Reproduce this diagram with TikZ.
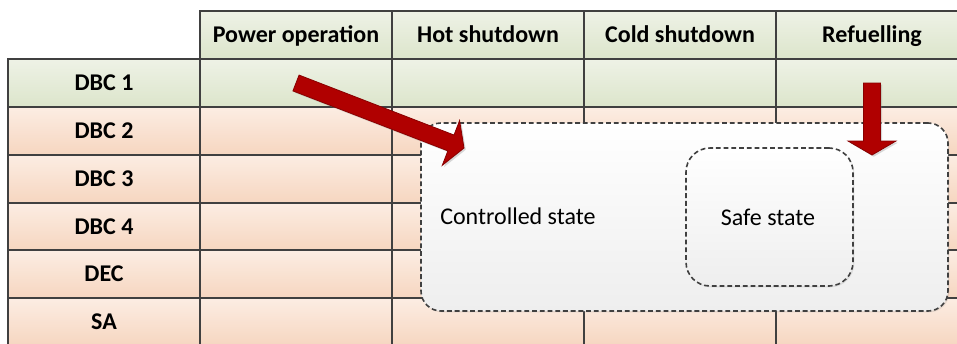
\documentclass[tikz,border=0pt]{standalone}
\usepackage{fontspec}
\setmainfont{Carlito}
\usetikzlibrary{calc,shadows}

\definecolor{gridgray}{HTML}{404040}
\definecolor{gtop}{HTML}{EEF2E6}
\definecolor{gbot}{HTML}{DCE5CB}
\definecolor{ptop}{HTML}{FCEDE3}
\definecolor{pbot}{HTML}{F6D6C0}
\definecolor{arrowred}{HTML}{B00000}
\definecolor{arrowedge}{HTML}{880000}
\definecolor{boxbot}{HTML}{EEEEEE}

\tikzset{
  cell/.style={draw=gridgray, line width=1.5pt, minimum width=144pt,
    minimum height=35.85pt, inner sep=0pt, text=black,
    text height=11.6pt, text depth=0pt,
    font=\fontsize{18}{21}\selectfont\bfseries},
  greencell/.style={top color=gtop, bottom color=gbot},
  peachcell/.style={top color=ptop, bottom color=pbot},
  statebox/.style={draw=gridgray, line width=1.2pt,
    dash pattern=on 3.6pt off 2.2pt, top color=white, bottom color=boxbot,
    drop shadow={opacity=0.18, shadow xshift=1pt, shadow yshift=-1pt},
    inner sep=0pt},
  statetext/.style={font=\fontsize{18}{21}\selectfont, text=black, inner sep=0pt},
  blockarrow/.style={fill=arrowred, draw=arrowedge, line width=0.6pt,
    line join=miter,
    drop shadow={opacity=0.3, shadow xshift=1.3pt, shadow yshift=-1.3pt}}
}

\newcommand\myblockarrow[3]{%
  \coordinate (#3b) at ($(#2)!10.5pt!(#1)$);
  \path[blockarrow]
    ($(#1)!6.375pt!90:(#2)$) -- ($(#3b)!6.375pt!90:(#2)$)
    -- ($(#3b)!18pt!90:(#2)$) -- (#2)
    -- ($(#3b)!18pt!-90:(#2)$) -- ($(#3b)!6.375pt!-90:(#2)$)
    -- ($(#1)!6.375pt!-90:(#2)$) -- cycle;
}

\begin{document}
\begin{tikzpicture}[x=0.75pt,y=-0.75pt]
\useasboundingbox (0,0) rectangle (957,343);
\clip (0,0) rectangle (957,343);

% header
\node[cell,greencell] (h1) at (296,35) {Power operation};
\node[cell,greencell] (h2) at (488,35) {Hot shutdown};
\node[cell,greencell] (h3) at (680,35) {Cold shutdown};
\node[cell,greencell] (h4) at (872,35) {Refuelling};

% first row (green)
\node[cell,greencell] (r1) at (104,83) {DBC 1};
\foreach \j in {1,...,4} {
  \pgfmathsetmacro\xc{296+192*(\j-1)}
  \node[cell,greencell] (c1\j) at (\xc,83) {};
}

% remaining rows (peach)
\foreach \lab [count=\k from 2] in {DBC 2,DBC 3,DBC 4,DEC,SA} {
  \pgfmathsetmacro\yc{83+47.8*(\k-1)}
  \node[cell,peachcell] (r\k) at (104,\yc) {\lab};
  \foreach \j in {1,...,4} {
    \pgfmathsetmacro\xc{296+192*(\j-1)}
    \node[cell,peachcell] (c\k\j) at (\xc,\yc) {};
  }
}

% state boxes
\node[statebox, rounded corners=15pt, minimum width=395.25pt,
  minimum height=141pt] (ctrl) at (684.5,217) {};
\node[statetext, anchor=west] (ctrltext) at (440,216) {Controlled state};
\node[statebox, rounded corners=18pt, minimum width=125.25pt,
  minimum height=103.5pt] (safe) at (769.5,217) {};
\node[statetext] (safetext) at (768,217) {Safe state};

% arrows
\coordinate (a1p) at (464,148);
\coordinate (a2p) at (872,155);
\myblockarrow{c11.center}{a1p}{ab1}
\myblockarrow{c14.center}{a2p}{ab2}
\end{tikzpicture}
\end{document}
